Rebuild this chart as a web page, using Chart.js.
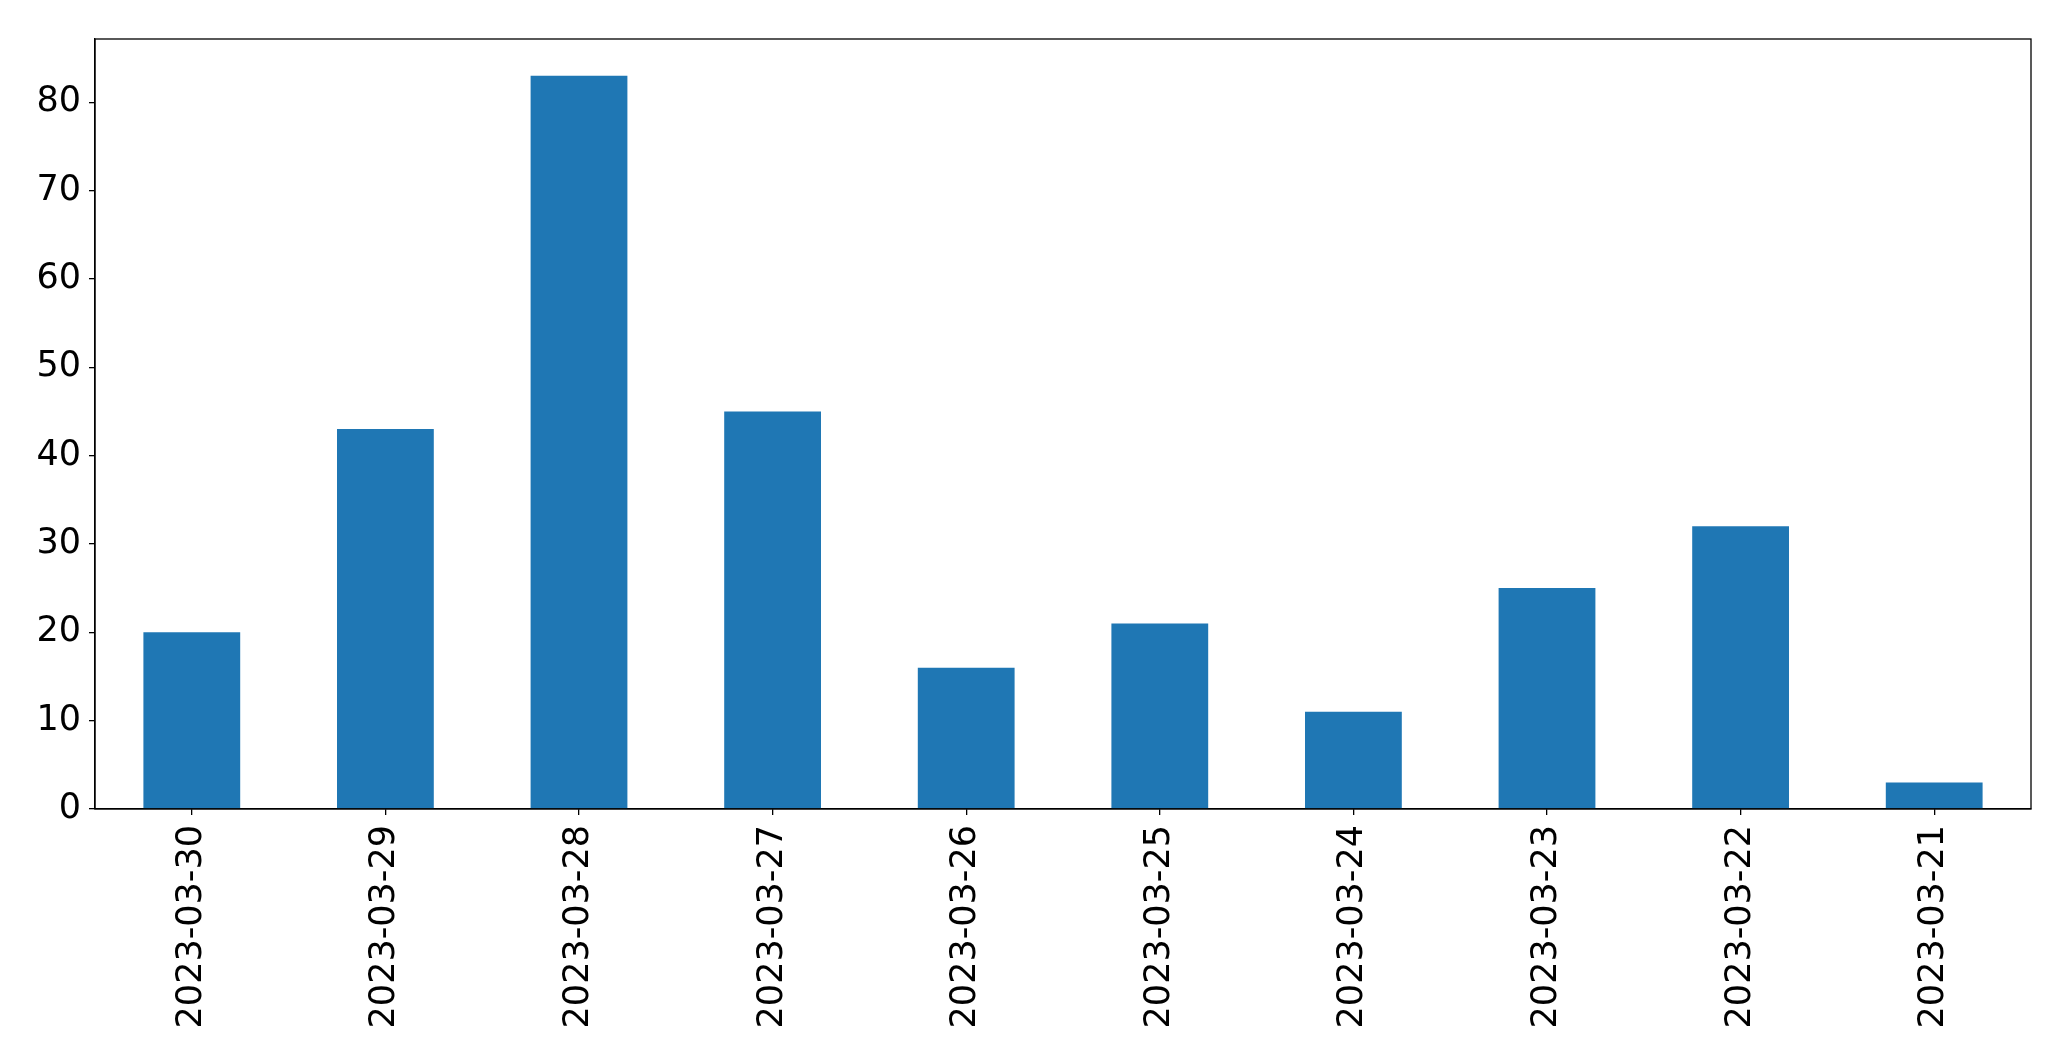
<!DOCTYPE html>
<html>
<head>
<meta charset="utf-8">
<script src="https://cdn.jsdelivr.net/npm/chart.js@4/dist/chart.umd.min.js"></script>
<style>
html,body{margin:0;padding:0;background:#fff;}
#wrap{width:2071px;height:1061px;position:relative;}
</style>
</head>
<body>
<div id="wrap"><canvas id="c" width="2071" height="1061"></canvas></div>
<script>
const categories = ["2023-03-30","2023-03-29","2023-03-28","2023-03-27","2023-03-26","2023-03-25","2023-03-24","2023-03-23","2023-03-22","2023-03-21"];
const values = [20, 43, 83, 45, 16, 21, 11, 25, 32, 3];
const yTicks = [0, 10, 20, 30, 40, 50, 60, 70, 80];

const frame = {
  id: 'frame',
  afterDraw(chart) {
    const a = chart.chartArea, ctx = chart.ctx;
    ctx.save();
    ctx.strokeStyle = '#000';
    ctx.lineWidth = 1.3;
    ctx.strokeRect(a.left, a.top, a.right - a.left, a.bottom - a.top);
    ctx.restore();
  }
};

new Chart(document.getElementById('c'), {
  type: 'bar',
  data: {
    labels: categories,
    datasets: [{
      data: values,
      backgroundColor: '#1f77b4',
      borderWidth: 0,
      categoryPercentage: 1.0,
      barPercentage: 0.5
    }]
  },
  options: {
    responsive: false,
    animation: false,
    devicePixelRatio: 1,
    layout: { padding: { left: 0, top: 39, right: 40, bottom: 0 } },
    plugins: { legend: { display: false }, tooltip: { enabled: false } },
    scales: {
      x: {
        offset: true,
        grid: { display: true, offset: false, drawOnChartArea: false, drawTicks: true, tickLength: 6, color: '#000', lineWidth: 1.3 },
        border: { display: true, color: '#000', width: 1.3 },
        ticks: {
          color: '#000',
          font: { family: 'DejaVu Sans', size: 35 },
          minRotation: 90, maxRotation: 90,
          autoSkip: false,
          padding: 10
        },
        afterFit(s) { s.height = 1061 - 809; }
      },
      y: {
        min: 0,
        max: 87.15,
        afterBuildTicks(s) { s.ticks = yTicks.map(v => ({ value: v })); },
        grid: { display: true, drawOnChartArea: false, drawTicks: true, tickLength: 6, color: '#000', lineWidth: 1.3 },
        border: { display: true, color: '#000', width: 1.3 },
        ticks: {
          color: '#000',
          font: { family: 'DejaVu Sans', size: 35 },
          padding: 8
        },
        afterFit(s) { s.width = 95; }
      }
    }
  },
  plugins: [frame]
});
</script>
</body>
</html>
